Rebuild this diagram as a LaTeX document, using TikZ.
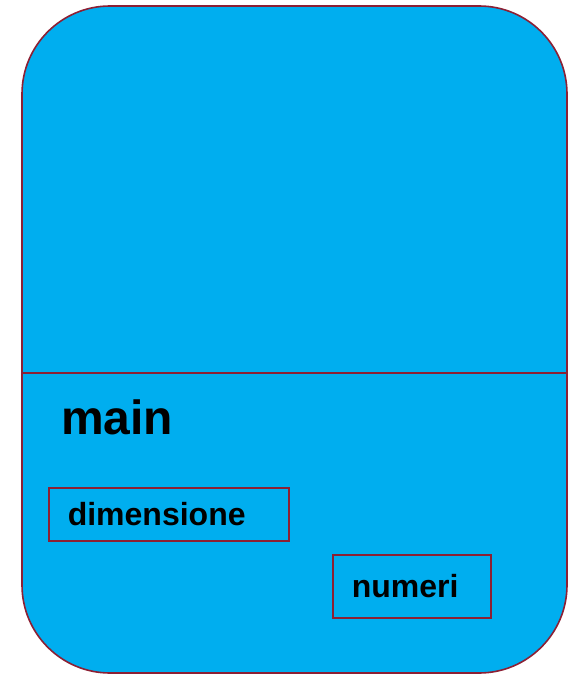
\documentclass[tikz,border=0pt]{standalone}
\usepackage{fontspec}
\setmainfont{Liberation Sans}
\definecolor{framefill}{RGB}{0,174,239}
\definecolor{frameline}{RGB}{140,32,52}

\tikzset{
  frame/.style={draw=frameline, line width=1.6pt, fill=framefill, rounded corners=88pt},
  varbox/.style={draw=frameline, line width=1.6pt, inner xsep=19pt, inner ysep=0pt, align=left, font=\fontsize{32}{34}\selectfont\bfseries},
}

\begin{document}
\begin{tikzpicture}[x=1pt, y=-1pt]
    \useasboundingbox (0,0) rectangle (571,674);
    % stack frame of main
    \draw[frame] (22,6) rectangle (567,673);
    \coordinate (sepL) at (22,373);
    \coordinate (sepR) at (567,373);
    \draw[frameline, line width=1.6pt] (sepL) -- (sepR);
    \node[anchor=base west, inner sep=0pt, font=\fontsize{48}{50}\selectfont\bfseries] (fname) at (61,434) {main};
    % local variables
    \node[varbox, anchor=north west, text width=202pt, minimum height=53pt] (dim) at (48,487) {dimensione};
    \node[varbox, anchor=north west, text width=120pt, minimum height=63pt] (num) at (332,554) {numeri};
\end{tikzpicture}
\end{document}
